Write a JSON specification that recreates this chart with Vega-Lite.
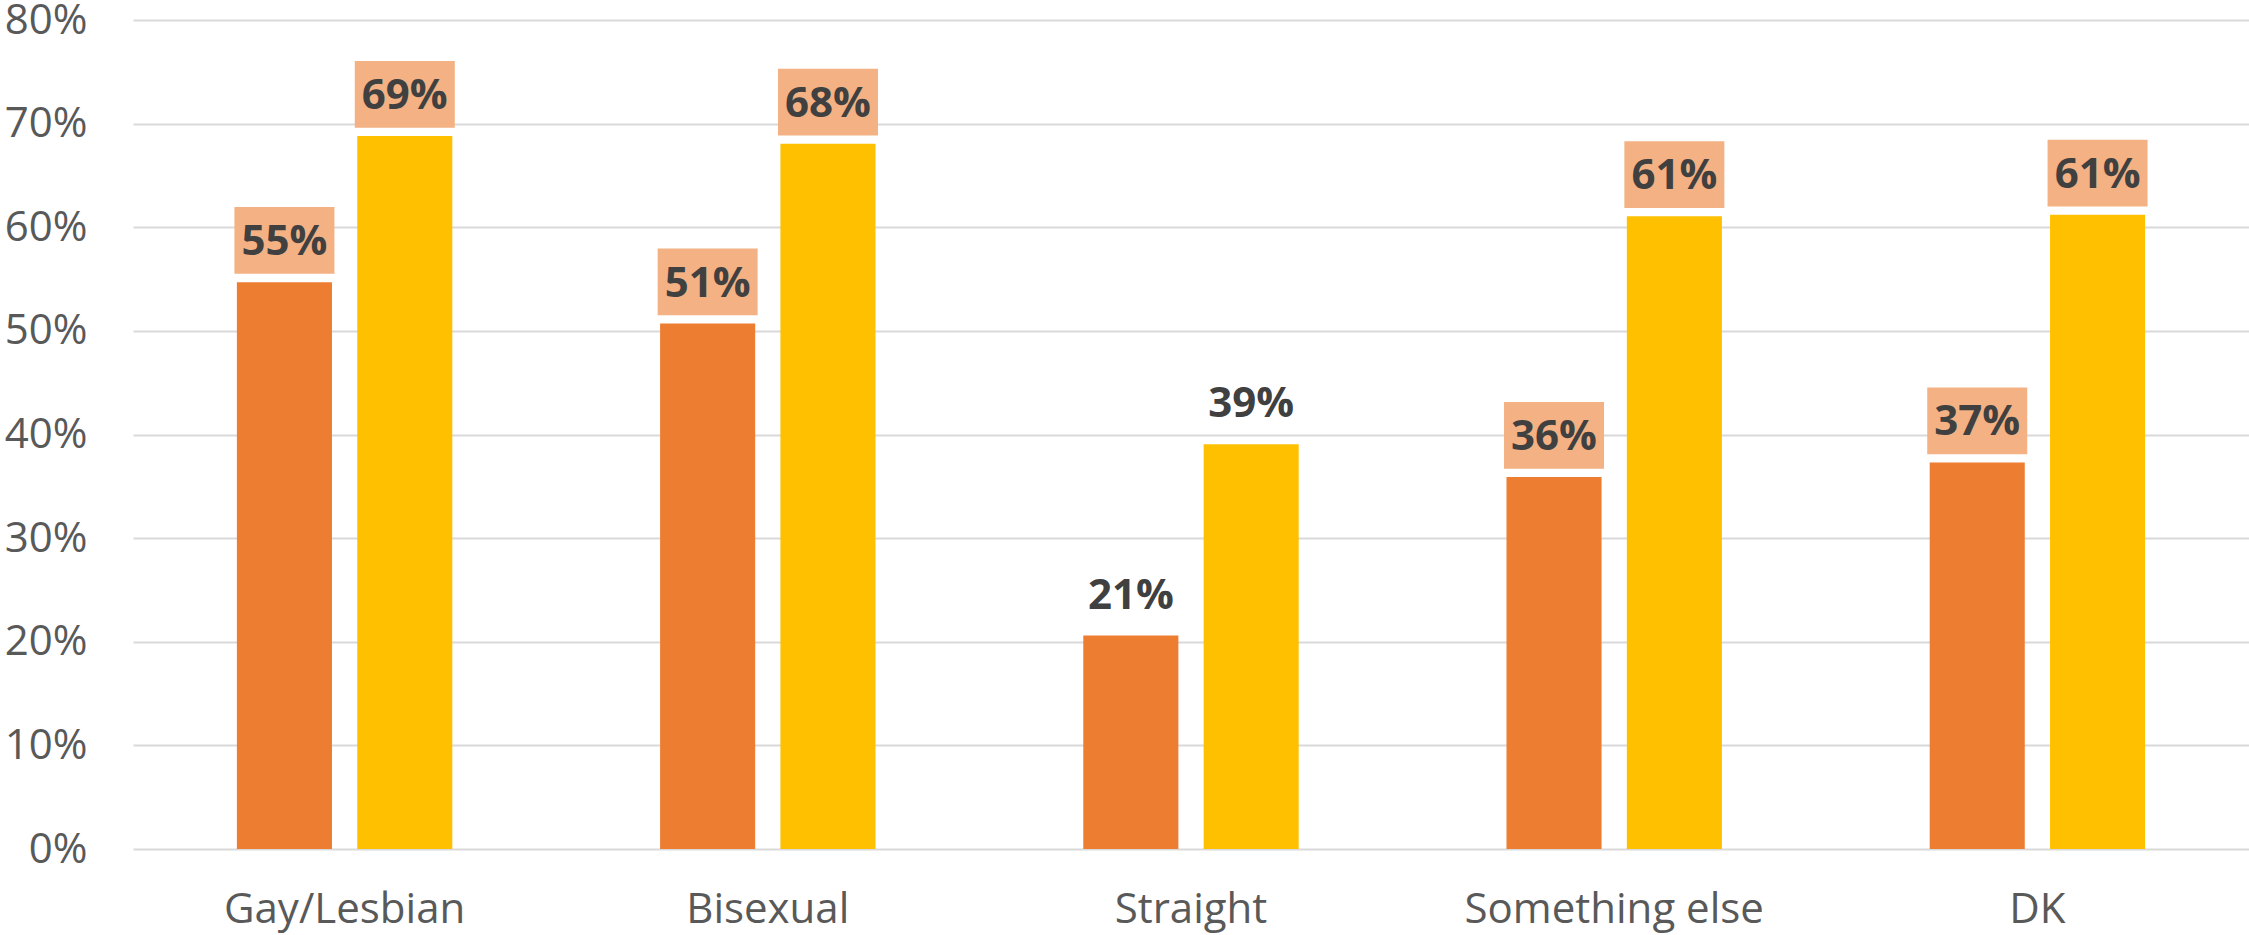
{
  "$schema": "https://vega.github.io/schema/vega-lite/v6.json",
  "autosize": "none",
  "width": 2116,
  "height": 829,
  "padding": {"left": 133, "top": 20, "right": 0, "bottom": 86},
  "background": "white",
  "config": {
    "view": {"stroke": null},
    "font": "Open Sans"
  },
  "data": {
    "values": [
      {"category": "Gay/Lesbian", "series": "Series 1", "value": 0.547},
      {"category": "Gay/Lesbian", "series": "Series 2", "value": 0.688},
      {"category": "Bisexual", "series": "Series 1", "value": 0.507},
      {"category": "Bisexual", "series": "Series 2", "value": 0.6805},
      {"category": "Straight", "series": "Series 1", "value": 0.206},
      {"category": "Straight", "series": "Series 2", "value": 0.3905},
      {"category": "Something else", "series": "Series 1", "value": 0.359},
      {"category": "Something else", "series": "Series 2", "value": 0.6105},
      {"category": "DK", "series": "Series 1", "value": 0.373},
      {"category": "DK", "series": "Series 2", "value": 0.612}
    ]
  },
  "encoding": {
    "x": {
      "field": "category",
      "type": "nominal",
      "sort": null,
      "scale": {"paddingInner": 0.491, "paddingOuter": 0.2455},
      "axis": {
        "title": null,
        "labelAngle": 0,
        "labelFont": "Open Sans",
        "labelFontSize": 42,
        "labelColor": "#595959",
        "labelBaseline": "alphabetic",
        "labelPadding": 73,
        "labelLimit": 0,
        "labelOverlap": false,
        "ticks": false,
        "tickSize": 0,
        "domain": false,
        "grid": false
      }
    },
    "xOffset": {
      "field": "series",
      "type": "nominal",
      "scale": {"paddingInner": 0.21, "paddingOuter": 0}
    },
    "y": {
      "field": "value",
      "type": "quantitative",
      "scale": {"domain": [0, 0.8], "nice": false},
      "axis": {
        "title": null,
        "values": [0, 0.1, 0.2, 0.3, 0.4, 0.5, 0.6, 0.7, 0.8],
        "format": ".0%",
        "labelFont": "Open Sans",
        "labelFontSize": 42,
        "labelColor": "#595959",
        "labelPadding": 46,
        "labelLimit": 0,
        "ticks": false,
        "tickSize": 0,
        "domain": false,
        "grid": true,
        "gridColor": "#D9D9D9",
        "gridWidth": 2
      }
    }
  },
  "layer": [
    {
      "mark": {"type": "bar"},
      "encoding": {
        "color": {
          "field": "series",
          "type": "nominal",
          "scale": {"domain": ["Series 1", "Series 2"], "range": ["#ED7D31", "#FFC000"]},
          "legend": null
        }
      }
    },
    {
      "transform": [{"filter": "datum.category !== 'Straight'"}],
      "mark": {
        "type": "point",
        "shape": "M-1,-0.667L1,-0.667L1,0.667L-1,0.667Z",
        "size": 10000,
        "filled": true,
        "fill": "#F4B183",
        "opacity": 1,
        "strokeWidth": 0,
        "yOffset": -41.7
      }
    },
    {
      "mark": {
        "type": "text",
        "font": "Open Sans",
        "fontSize": 42,
        "fontWeight": "bold",
        "color": "#404040",
        "baseline": "middle",
        "align": "center",
        "yOffset": -40
      },
      "encoding": {
        "text": {"field": "value", "type": "quantitative", "format": ".0%"}
      }
    }
  ]
}
